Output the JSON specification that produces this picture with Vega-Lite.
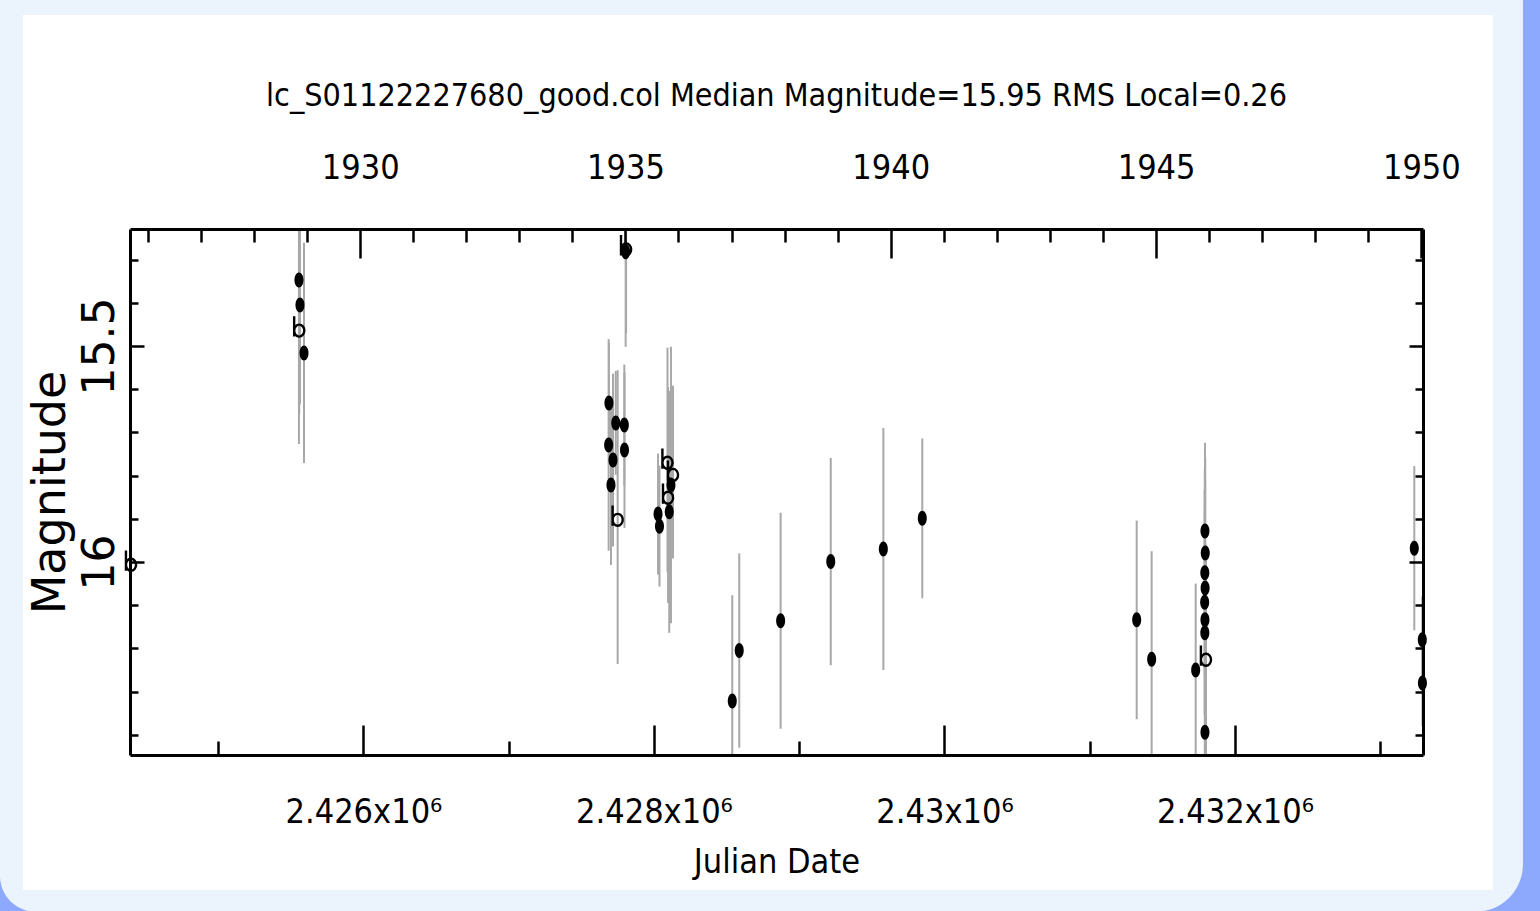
{
  "$schema": "https://vega.github.io/schema/vega-lite/v6.json",
  "width": 1293,
  "height": 526,
  "autosize": {"type": "none"},
  "padding": {"left": 130, "top": 229, "right": 117, "bottom": 156},
  "background": "#8DA9FE",
  "title": {
    "text": "lc_S01122227680_good.col Median Magnitude=15.95 RMS Local=0.26",
    "font": "DejaVu Sans Condensed, sans-serif",
    "fontSize": 32,
    "fontWeight": "normal",
    "color": "black",
    "anchor": "middle",
    "baseline": "alphabetic",
    "offset": -159,
    "zindex": 1
  },
  "datasets": {
    "obs": [
      {"jd": 2424400, "mag": 16.000, "err": 0.25, "kind": "open"},
      {"jd": 2425556, "mag": 15.347, "err": 0.38, "kind": "filled"},
      {"jd": 2425563, "mag": 15.405, "err": 0.23, "kind": "filled"},
      {"jd": 2425558, "mag": 15.458, "err": 0.20, "kind": "open"},
      {"jd": 2425591, "mag": 15.516, "err": 0.255, "kind": "filled"},
      {"jd": 2427805, "mag": 15.282, "err": 0.22, "kind": "filled"},
      {"jd": 2427808, "mag": 15.270, "err": 0.20, "kind": "open"},
      {"jd": 2427690, "mag": 15.632, "err": 0.14, "kind": "filled"},
      {"jd": 2427737, "mag": 15.678, "err": 0.12, "kind": "filled"},
      {"jd": 2427688, "mag": 15.729, "err": 0.245, "kind": "filled"},
      {"jd": 2427718, "mag": 15.764, "err": 0.20, "kind": "filled"},
      {"jd": 2427704, "mag": 15.822, "err": 0.185, "kind": "filled"},
      {"jd": 2427750, "mag": 15.896, "err": 0.34, "kind": "open"},
      {"jd": 2427796, "mag": 15.683, "err": 0.14, "kind": "filled"},
      {"jd": 2427797, "mag": 15.741, "err": 0.18, "kind": "filled"},
      {"jd": 2428028, "mag": 15.889, "err": 0.14, "kind": "filled"},
      {"jd": 2428038, "mag": 15.917, "err": 0.14, "kind": "filled"},
      {"jd": 2428105, "mag": 15.884, "err": 0.28, "kind": "filled"},
      {"jd": 2428093, "mag": 15.764, "err": 0.26, "kind": "open"},
      {"jd": 2428131, "mag": 15.792, "err": 0.20, "kind": "open"},
      {"jd": 2428117, "mag": 15.822, "err": 0.32, "kind": "filled"},
      {"jd": 2428097, "mag": 15.845, "err": 0.25, "kind": "open"},
      {"jd": 2428539, "mag": 16.322, "err": 0.245, "kind": "filled"},
      {"jd": 2428587, "mag": 16.205, "err": 0.225, "kind": "filled"},
      {"jd": 2428872, "mag": 16.136, "err": 0.25, "kind": "filled"},
      {"jd": 2429217, "mag": 15.999, "err": 0.24, "kind": "filled"},
      {"jd": 2429579, "mag": 15.970, "err": 0.28, "kind": "filled"},
      {"jd": 2429847, "mag": 15.899, "err": 0.185, "kind": "filled"},
      {"jd": 2431323, "mag": 16.134, "err": 0.23, "kind": "filled"},
      {"jd": 2431426, "mag": 16.225, "err": 0.25, "kind": "filled"},
      {"jd": 2431729, "mag": 16.250, "err": 0.20, "kind": "filled"},
      {"jd": 2431793, "mag": 15.928, "err": 0.204, "kind": "filled"},
      {"jd": 2431795, "mag": 15.979, "err": 0.22, "kind": "filled"},
      {"jd": 2431792, "mag": 16.025, "err": 0.24, "kind": "filled"},
      {"jd": 2431794, "mag": 16.060, "err": 0.25, "kind": "filled"},
      {"jd": 2431791, "mag": 16.093, "err": 0.26, "kind": "filled"},
      {"jd": 2431793, "mag": 16.134, "err": 0.27, "kind": "filled"},
      {"jd": 2431792, "mag": 16.164, "err": 0.28, "kind": "filled"},
      {"jd": 2431800, "mag": 16.220, "err": 0.26, "kind": "open"},
      {"jd": 2431793, "mag": 16.394, "err": 0.12, "kind": "filled"},
      {"jd": 2433234, "mag": 15.968, "err": 0.19, "kind": "filled"},
      {"jd": 2433289, "mag": 16.180, "err": 0.10, "kind": "filled"},
      {"jd": 2433290, "mag": 16.280, "err": 0.10, "kind": "filled"}
    ]
  },
  "data": {"name": "obs"},
  "layer": [
    {
      "data": {"values": [{}]},
      "mark": {"type": "rect", "clip": false, "color": "#EBF3FC", "cornerRadiusBottomLeft": 36, "cornerRadiusBottomRight": 48},
      "encoding": {
        "x": {"datum": 2423498, "type": "quantitative", "scale": {"domain": [2424393, 2433294], "nice": false, "zero": false}, "axis": null},
        "x2": {"datum": 2433982},
        "y": {"datum": 14.65, "type": "quantitative", "scale": {"domain": [15.2292, 16.4468], "reverse": true, "nice": false, "zero": false}, "axis": null},
        "y2": {"datum": 16.81}
      }
    },
    {
      "data": {"values": [{}]},
      "mark": {"type": "rect", "clip": false, "color": "white"},
      "encoding": {
        "x": {"datum": 2423656, "type": "quantitative", "scale": {"domain": [2424393, 2433294], "nice": false, "zero": false}, "axis": null},
        "x2": {"datum": 2433776},
        "y": {"datum": 14.7338, "type": "quantitative", "scale": {"domain": [15.2292, 16.4468], "reverse": true, "nice": false, "zero": false}, "axis": null},
        "y2": {"datum": 16.7593}
      }
    },
    {
      "mark": {"type": "errorbar", "color": "#a8a8a8", "thickness": 2, "clip": true},
      "encoding": {
        "x": {"field": "jd", "type": "quantitative", "scale": {"domain": [2424393, 2433294], "nice": false, "zero": false}, "axis": null},
        "y": {"field": "mag", "type": "quantitative", "scale": {"domain": [15.2292, 16.4468], "reverse": true, "nice": false, "zero": false}, "axis": null},
        "yError": {"field": "err"}
      }
    },
    {
      "transform": [{"filter": "datum.kind === 'filled'"}],
      "mark": {"type": "point", "shape": "M0,-1A0.6,1,0,1,1,0,1A0.6,1,0,1,1,0,-1Z", "size": 225, "filled": true, "color": "black", "opacity": 1},
      "encoding": {
        "x": {
          "field": "jd", "type": "quantitative",
          "scale": {"domain": [2424393, 2433294], "nice": false, "zero": false},
          "axis": {
            "orient": "bottom",
            "zindex": 1,
            "values": [2426000, 2428000, 2430000, 2432000],
            "tickSize": -30,
            "labelExpr": "format(datum.value / 1e6, '.3~f') + 'x10⁶'",
            "labelFont": "DejaVu Sans Condensed, sans-serif",
            "labelFontSize": 34,
            "labelBaseline": "alphabetic",
            "labelPadding": 97,
            "title": "Julian Date",
            "titleFont": "DejaVu Sans Condensed, sans-serif",
            "titleFontSize": 34,
            "titlePadding": 16
          }
        },
        "y": {
          "field": "mag", "type": "quantitative",
          "scale": {"domain": [15.2292, 16.4468], "reverse": true, "nice": false, "zero": false},
          "axis": {
            "orient": "left",
            "zindex": 1,
            "values": [15.5, 16],
            "format": "~g",
            "tickSize": -14,
            "labelAngle": -90,
            "labelFont": "DejaVu Sans",
            "labelFontSize": 44,
            "labelPadding": 22,
            "title": "Magnitude",
            "titleFont": "DejaVu Sans",
            "titleFontSize": 46,
            "titlePadding": 4
          }
        }
      }
    },
    {
      "transform": [{"filter": "datum.kind === 'open'"}],
      "mark": {"type": "point", "shape": "M-0.55,-1.25L-0.55,0.95M-0.55,0.3A0.55,0.65,0,1,1,0.55,0.3A0.55,0.65,0,1,1,-0.55,0.3", "size": 340, "filled": false, "color": "black", "strokeWidth": 2.4, "opacity": 1},
      "encoding": {
        "x": {"field": "jd", "type": "quantitative", "scale": {"domain": [2424393, 2433294], "nice": false, "zero": false}, "axis": null},
        "y": {"field": "mag", "type": "quantitative", "scale": {"domain": [15.2292, 16.4468], "reverse": true, "nice": false, "zero": false}, "axis": null}
      }
    },
    {
      "data": {"values": [{}]},
      "mark": {"type": "point", "opacity": 0},
      "encoding": {
        "x": {
          "datum": 2430000, "type": "quantitative",
          "scale": {"domain": [2424393, 2433294], "nice": false, "zero": false},
          "axis": {"orient": "bottom", "zindex": 1, "values": [2425000, 2427000, 2429000, 2431000, 2433000], "tickSize": -14, "labels": false, "title": null, "domain": false}
        },
        "y": {
          "datum": 16, "type": "quantitative",
          "scale": {"domain": [15.2292, 16.4468], "reverse": true, "nice": false, "zero": false},
          "axis": {"orient": "left", "zindex": 1, "values": [15.3, 15.4, 15.6, 15.7, 15.8, 15.9, 16.1, 16.2, 16.3, 16.4], "tickSize": -8, "labels": false, "title": null, "domain": false}
        }
      }
    },
    {
      "data": {"values": [{}]},
      "mark": {"type": "point", "opacity": 0},
      "encoding": {
        "x": {
          "datum": 2430000, "type": "quantitative",
          "scale": {"domain": [2424393, 2433294], "nice": false, "zero": false},
          "axis": {
            "orient": "top",
            "zindex": 1,
            "values": [2425977.5, 2427803.5, 2429629.5, 2431456.5, 2433282.5],
            "tickSize": -29,
            "labelExpr": "'' + round((datum.value - 2425977.5) / 365.25 + 1930)",
            "labelFont": "DejaVu Sans Condensed, sans-serif",
            "labelFontSize": 34,
            "labelBaseline": "alphabetic",
            "labelPadding": 80,
            "title": null
          }
        },
        "y": {
          "datum": 16, "type": "quantitative",
          "scale": {"domain": [15.2292, 16.4468], "reverse": true, "nice": false, "zero": false},
          "axis": {"orient": "right", "zindex": 1, "values": [15.5, 16], "tickSize": -14, "labels": false, "title": null}
        }
      }
    },
    {
      "data": {"values": [{}]},
      "mark": {"type": "point", "opacity": 0},
      "encoding": {
        "x": {
          "datum": 2430000, "type": "quantitative",
          "scale": {"domain": [2424393, 2433294], "nice": false, "zero": false},
          "axis": {
            "orient": "top",
            "zindex": 1,
            "values": [2424516.5, 2424881.5, 2425246.5, 2425612.5, 2426342.5, 2426707.5, 2427073.5, 2427438.5, 2428168.5, 2428534.5, 2428899.5, 2429264.5, 2429995.5, 2430360.5, 2430725.5, 2431090.5, 2431821.5, 2432186.5, 2432551.5, 2432917.5],
            "tickSize": -13, "labels": false, "title": null, "domain": false
          }
        },
        "y": {
          "datum": 16, "type": "quantitative",
          "scale": {"domain": [15.2292, 16.4468], "reverse": true, "nice": false, "zero": false},
          "axis": {"orient": "right", "zindex": 1, "values": [15.3, 15.4, 15.6, 15.7, 15.8, 15.9, 16.1, 16.2, 16.3, 16.4], "tickSize": -8, "labels": false, "title": null, "domain": false}
        }
      }
    }
  ],
  "resolve": {"axis": {"x": "independent", "y": "independent"}},
  "config": {
    "view": {"stroke": null},
    "axis": {
      "grid": false,
      "domainColor": "black",
      "domainWidth": 3,
      "tickColor": "black",
      "tickWidth": 2.5,
      "labelColor": "black",
      "titleColor": "black",
      "titleFontWeight": "normal",
      "labelFlush": false,
      "labelOverlap": false
    }
  }
}
